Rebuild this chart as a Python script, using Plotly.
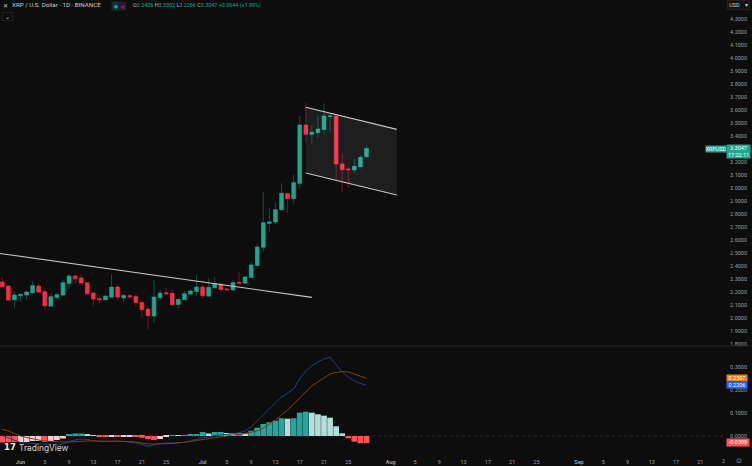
import pandas as pd
import plotly.graph_objects as go

# daily XRPUSD candles
dates = pd.date_range("2025-05-29", "2025-07-28", freq="D")
opens = [2.277, 2.246, 2.141, 2.172, 2.177, 2.195, 2.246, 2.202, 2.092, 2.159, 2.177, 2.267, 2.323, 2.308, 2.272, 2.192,
         2.149, 2.141, 2.161, 2.238, 2.156, 2.172, 2.167, 2.120, 2.069, 2.015, 2.156, 2.195, 2.190, 2.105, 2.141, 2.185,
         2.205, 2.238, 2.169, 2.233, 2.261, 2.223, 2.216, 2.275, 2.269, 2.313, 2.405, 2.544, 2.728, 2.739, 2.833, 2.957,
         2.918, 3.036, 3.485, 3.413, 3.426, 3.451, 3.549, 3.554, 3.185, 3.146, 3.139, 3.164, 3.2406]
highs = [2.313, 2.250, 2.208, 2.190, 2.210, 2.279, 2.267, 2.233, 2.195, 2.195, 2.297, 2.338, 2.328, 2.338, 2.274, 2.192,
         2.182, 2.174, 2.338, 2.259, 2.185, 2.190, 2.179, 2.138, 2.087, 2.292, 2.220, 2.233, 2.215, 2.149, 2.210, 2.215,
         2.331, 2.256, 2.305, 2.313, 2.267, 2.236, 2.292, 2.357, 2.323, 2.431, 2.567, 2.972, 2.846, 2.890, 3.036, 2.957,
         3.100, 3.554, 3.659, 3.485, 3.559, 3.651, 3.575, 3.562, 3.267, 3.159, 3.223, 3.251, 3.3302]
lows = [2.236, 2.135, 2.082, 2.126, 2.138, 2.190, 2.195, 2.061, 2.087, 2.151, 2.172, 2.226, 2.261, 2.254, 2.177, 2.087,
        2.113, 2.138, 2.156, 2.138, 2.123, 2.151, 2.087, 2.000, 1.913, 1.964, 2.138, 2.174, 2.100, 2.069, 2.138, 2.182,
        2.169, 2.149, 2.164, 2.228, 2.200, 2.208, 2.210, 2.254, 2.262, 2.308, 2.403, 2.513, 2.664, 2.723, 2.828, 2.805,
        2.882, 2.995, 3.351, 3.339, 3.390, 3.410, 3.426, 3.057, 2.964, 3.005, 3.113, 3.159, 3.2266]
closes = [2.241, 2.138, 2.177, 2.182, 2.200, 2.249, 2.200, 2.095, 2.164, 2.179, 2.272, 2.323, 2.302, 2.269, 2.187, 2.146,
          2.141, 2.169, 2.238, 2.161, 2.174, 2.164, 2.120, 2.064, 2.018, 2.161, 2.192, 2.187, 2.102, 2.144, 2.187, 2.208,
          2.238, 2.172, 2.236, 2.264, 2.220, 2.218, 2.272, 2.269, 2.316, 2.408, 2.546, 2.733, 2.739, 2.833, 2.959, 2.918,
          3.041, 3.485, 3.413, 3.428, 3.454, 3.554, 3.554, 3.185, 3.141, 3.141, 3.167, 3.236, 3.3047]

# MACD pane
hist = [-0.0283, -0.0274, -0.0261, -0.0261, -0.0261, -0.0217, -0.0217, -0.0261, -0.0217, -0.0174, -0.0109, 0.0065, 0.0109,
        0.0109, 0.0065, 0.0013, -0.0052, -0.0052, -0.0022, -0.0043, -0.0035, -0.0035, -0.0043, -0.0074, -0.013, -0.0174,
        -0.013, -0.0043, 0.0022, 0.0022, 0.0022, 0.0065, 0.0087, 0.0174, 0.0109, 0.0174, 0.0174, 0.013, 0.013, 0.013, 0.0109,
        0.023, 0.036, 0.052, 0.0596, 0.0665, 0.077, 0.0752, 0.077, 0.1013, 0.1057, 0.1013, 0.0943, 0.0883, 0.0796, 0.0422,
        0.0117, -0.01, -0.0248, -0.0317, -0.0309]
hist_kind = list("RRRPPPPRPPPGGGLLRRPRPPRRRRPPGLGGGGLGGLLGL" + "GGGGGG" + "LGGG" + "LLLLLL" + "RRRR")
macd = [0.0022, -0.0087, -0.0196, -0.0283, -0.0304, -0.0326, -0.0348, -0.037, -0.0391, -0.0391, -0.0348, -0.0239, -0.0174,
        -0.013, -0.0152, -0.0196, -0.0239, -0.0239, -0.0217, -0.0217, -0.0239, -0.0261, -0.0304, -0.037, -0.0448, -0.0391,
        -0.0326, -0.0304, -0.0304, -0.0283, -0.0283, -0.0196, -0.013, -0.0087, -0.0043, 0.0022, 0.0043, 0.0065, 0.01, 0.0143,
        0.0217, 0.0391, 0.0652, 0.0957, 0.1217, 0.1435, 0.1696, 0.187, 0.2043, 0.2478, 0.2826, 0.3043, 0.3217, 0.3348, 0.3422,
        0.3087, 0.2783, 0.2565, 0.2391, 0.2283, 0.2206]
signal = [0.0291, 0.0217, 0.0109, 0.0, -0.0065, -0.013, -0.0174, -0.0217, -0.0239, -0.0261, -0.0261, -0.0261, -0.0239,
          -0.0217, -0.0217, -0.0217, -0.0217, -0.0217, -0.0217, -0.0217, -0.0217, -0.0239, -0.0261, -0.0304, -0.0348, -0.0348,
          -0.0348, -0.0326, -0.0326, -0.0304, -0.0283, -0.0239, -0.0196, -0.0152, -0.0109, -0.0065, -0.0022, 0.0, 0.0043, 0.0065,
          0.0109, 0.0152, 0.0217, 0.0348, 0.0522, 0.0696, 0.0913, 0.113, 0.1391, 0.1652, 0.1913, 0.2174, 0.2348, 0.2522, 0.2696,
          0.2761, 0.2796, 0.2783, 0.2696, 0.2609, 0.2507]

# drawn trendlines
trend_x = ["2025-05-28 15:00", "2025-07-19"]
trend_y = [2.497, 2.159]
chan_x = ["2025-07-18", "2025-08-02"]
chan_top = [3.621, 3.451]
chan_bot = [3.116, 2.946]

# date axis labels
tick_dates = ["2025-06-01", "2025-06-05", "2025-06-09", "2025-06-13", "2025-06-17", "2025-06-21", "2025-06-25",
              "2025-07-01", "2025-07-05", "2025-07-09", "2025-07-13", "2025-07-17", "2025-07-21", "2025-07-25",
              "2025-08-01", "2025-08-05", "2025-08-09", "2025-08-13", "2025-08-17", "2025-08-21", "2025-08-25",
              "2025-09-01", "2025-09-05", "2025-09-09", "2025-09-13", "2025-09-17", "2025-09-21"]
tick_text = ["<b>Jun</b>", "5", "9", "13", "17", "21", "25", "<b>Jul</b>", "5", "9", "13", "17", "21", "25",
             "<b>Aug</b>", "5", "9", "13", "17", "21", "25", "<b>Sep</b>", "5", "9", "13", "17", "21"]

BG = "#0d0d0d"
GREEN = "#1fa68f"
RED = "#fb2d46"
AXIS = "#9a9da6"
FONT = "Roboto"
hist_colors = {"G": "#26a69a", "L": "#b2dfdb", "P": "#ffcdd2", "R": "#ff5252"}

W, H = 723, 452  # plot area in pixels


def ax(x):
    return x / W


def ay(y):
    return 1 - y / H


fig = go.Figure()

fig.add_trace(go.Scatter(x=chan_x + chan_x[::-1], y=chan_top + chan_bot[::-1], fill="toself",
                         fillcolor="rgba(255,255,255,0.07)", mode="none", hoverinfo="skip"))

# wicks are darker than the bodies so they go in as their own candle trace
fig.add_trace(go.Candlestick(x=dates, open=opens, high=highs, low=lows, close=closes, whiskerwidth=0,
                             increasing=dict(line=dict(color="#0e4f47", width=1), fillcolor="#0e4f47"),
                             decreasing=dict(line=dict(color="#701824", width=1), fillcolor="#701824")))
body_hi = [max(o, c) for o, c in zip(opens, closes)]
body_lo = [min(o, c) for o, c in zip(opens, closes)]
fig.add_trace(go.Candlestick(x=dates, open=opens, high=body_hi, low=body_lo, close=closes, whiskerwidth=0,
                             increasing=dict(line=dict(color=GREEN, width=0.5), fillcolor=GREEN),
                             decreasing=dict(line=dict(color=RED, width=0.5), fillcolor=RED)))

for ys, xs in [(trend_y, trend_x), (chan_top, chan_x), (chan_bot, chan_x)]:
    fig.add_trace(go.Scatter(x=xs, y=ys, mode="lines", line=dict(color="#c8c8c8", width=1.1), hoverinfo="skip"))

fig.add_trace(go.Bar(x=dates, y=hist, yaxis="y2", marker=dict(color=[hist_colors[k] for k in hist_kind], line_width=0)))
fig.add_trace(go.Scatter(x=dates, y=macd, yaxis="y2", mode="lines", line=dict(color="#1f3f80", width=1)))
fig.add_trace(go.Scatter(x=dates, y=signal, yaxis="y2", mode="lines", line=dict(color="#7a4012", width=1)))

fig.update_layout(
    width=752, height=466, margin=dict(l=0, r=29, t=0, b=14),
    paper_bgcolor=BG, plot_bgcolor=BG, showlegend=False, bargap=0.06, boxgap=0.15,
    font=dict(family=FONT, size=5.5, color=AXIS),
    xaxis=dict(anchor="y2", type="date", range=["2025-05-28 15:00", "2025-09-24 17:30"], rangeslider_visible=False,
               showgrid=False, zeroline=False, showline=False, tickmode="array", tickvals=tick_dates, ticktext=tick_text,
               ticks="outside", ticklen=4, tickcolor=BG, tickangle=0, tickfont=dict(size=5.5, color=AXIS)),
    yaxis=dict(domain=[0.2345, 1], range=[1.785, 4.446], side="right", anchor="x", dtick=0.1, tick0=0,
               tickformat=".4f", showgrid=False, zeroline=False, ticks="outside", ticklen=5, tickcolor=BG),
    yaxis2=dict(domain=[0, 0.2345], range=[-0.0696, 0.391], side="right", anchor="x", dtick=0.1, tick0=0,
                tickformat=".4f", showgrid=False, zeroline=False, ticks="outside", ticklen=5, tickcolor=BG),
)

fig.add_hline(y=0, yref="y2", line=dict(color="#3a3a3a", width=0.7, dash="dot"), layer="below")
fig.add_shape(type="line", xref="paper", yref="paper", x0=0, x1=ax(752), y0=ay(346), y1=ay(346),
              line=dict(color="#222222", width=1))


def label(x, y, text, size=5.5, color=AXIS, anchor="left", **kw):
    fig.add_annotation(xref="paper", yref="paper", x=ax(x), y=ay(y), text=text, showarrow=False, xanchor=anchor,
                       yanchor="middle", font=dict(family=kw.pop("family", FONT), size=size, color=color),
                       borderpad=0, **kw)


def tag(x, y, w, h, text, color):
    label(x, y, text, color="#ffffff", bgcolor=color, width=w, height=h, align="center")


g = GREEN
header = (f'O<span style="color:{g}">3.2406</span> H<span style="color:{g}">3.3302</span> '
          f'L<span style="color:{g}">3.2266</span> C<span style="color:{g}">3.3047</span> '
          f'<span style="color:{g}">+0.0644 (+1.99%)</span>')
label(2, 5.5, "✕", size=6, color="#c9ccd4", family="DejaVu Sans")
label(11, 5.5, "XRP / U.S. Dollar · 1D · BINANCE", size=6.2, color="#c9ccd4")
label(110.5, 5.7, "●", size=4.5, color="#11b393", bgcolor="#12302c", width=8, height=8, align="center", family="DejaVu Sans")
label(117.5, 5.7, "⋖", size=6, color="#b040c8", bgcolor="#2a1730", width=7, height=8, align="center", family="DejaVu Sans")
label(132, 5.7, header, size=5.4, color="#b2b5be")

label(1.5, 16, "⌄", size=6, color="#c9ccd4", bordercolor="#2a2a2a", borderwidth=0.6, width=10, height=8, align="center",
      family="DejaVu Sans")

label(727, 5.5, "USD    ▾", color="#c9ccd4", bgcolor="#141414", bordercolor="#2a2a2a", borderwidth=0.6, width=22, height=9,
      align="center")

tag(705, 148.5, 20, 6, "XRPUSD", GREEN)
tag(726, 151.5, 23, 13, "3.3047<br>17:22:11", GREEN)
tag(726, 378, 20, 6, "0.2507", "#f57c00")
tag(726, 385, 20, 6, "0.2206", "#2962ff")
tag(726, 442.5, 22, 6.5, "-0.0309", "#ff5252")

label(3, 447, "<b>17</b>", size=8.5, color="#e6e6e6", family="DejaVu Sans")
label(17.5, 447.5, "TradingView", size=8.4, color="#d8d8d8", family="Inter")

label(723, 461, "2", color=AXIS, anchor="center")
label(739, 461, "⊙", size=7, color=AXIS, anchor="center", family="DejaVu Sans")

fig.write_html("out.html", config={"displayModeBar": False},
               post_script="document.body.style.margin='0';document.body.style.background='#0d0d0d';")
